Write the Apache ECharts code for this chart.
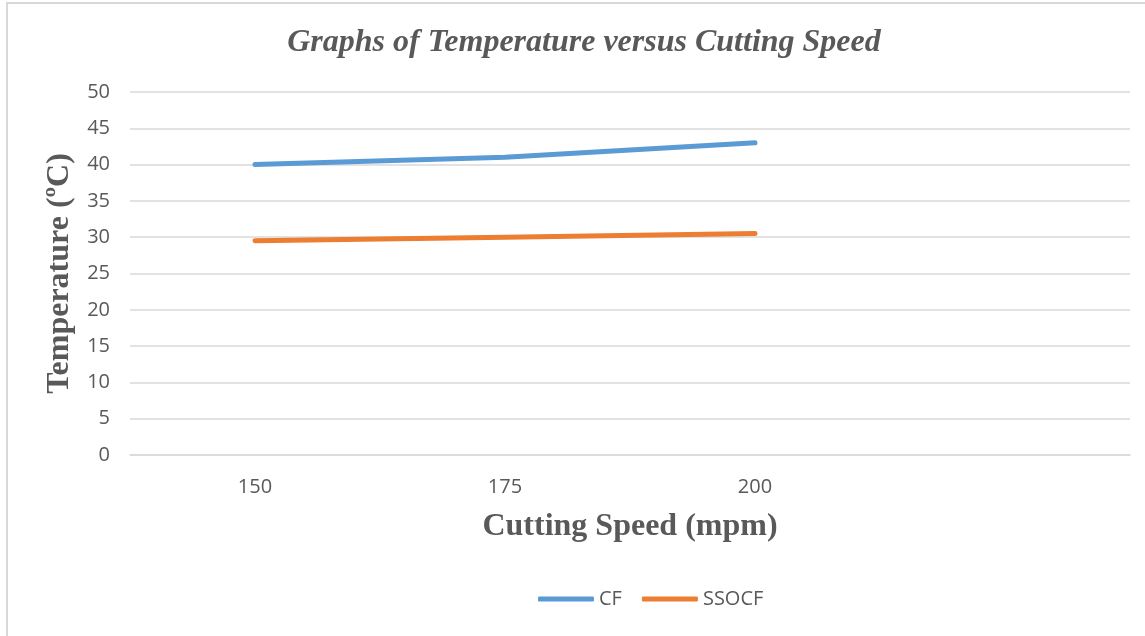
<!DOCTYPE html>
<html>
<head>
<meta charset="utf-8">
<script src="https://cdn.jsdelivr.net/npm/echarts@6/dist/echarts.min.js"></script>
<style>
html,body{margin:0;padding:0;background:#fff;}
#frame{position:absolute;left:6px;top:2px;width:1200px;height:700px;border:2px solid #d9d9d9;box-sizing:border-box;}
#chart{position:absolute;left:0;top:0;width:1145px;height:636px;}
</style>
</head>
<body>
<div id="frame"></div>
<div id="chart"></div>
<script>
const categories = ['150', '175', '200', ''];
const cfValues = [40, 41, 43, null];
const ssocfValues = [29.5, 30, 30.5, null];
const yTicks = { min: 0, max: 50, interval: 5 };

const chart = echarts.init(document.getElementById('chart'));
const serif = '"Liberation Serif", "Times New Roman", serif';
const sans = '"Open Sans", "Noto Sans", sans-serif';
chart.setOption({
  animation: false,
  title: {
    text: 'Graphs of Temperature versus Cutting Speed',
    left: 579, top: 22, textAlign: 'center',
    textStyle: { fontFamily: serif, fontStyle: 'italic', fontWeight: 'bold', fontSize: 32, color: '#595959' }
  },
  legend: {
    bottom: 22, left: 533,
    itemWidth: 56, itemHeight: 5, itemGap: 20,
    textStyle: { fontFamily: sans, fontSize: 20, color: '#595959' },
    data: [{ name: 'CF', icon: 'roundRect' }, { name: 'SSOCF', icon: 'roundRect' }]
  },
  grid: { left: 130, right: 15, top: 92, bottom: 181 },
  xAxis: {
    type: 'category', data: categories, boundaryGap: true,
    name: 'Cutting Speed (mpm)', nameLocation: 'middle', nameGap: 56,
    nameTextStyle: { fontFamily: serif, fontWeight: 'bold', fontSize: 32, color: '#595959' },
    axisLine: { lineStyle: { color: '#d9d9d9', width: 1.5 } },
    axisTick: { show: false },
    axisLabel: { fontFamily: sans, fontSize: 20, color: '#595959', margin: 22 }
  },
  yAxis: {
    type: 'value', min: yTicks.min, max: yTicks.max, interval: yTicks.interval,
    name: 'Temperature (ºC)', nameLocation: 'middle', nameGap: 54,
    nameTextStyle: { fontFamily: serif, fontWeight: 'bold', fontSize: 32, color: '#595959' },
    axisLine: { show: false }, axisTick: { show: false },
    axisLabel: { fontFamily: sans, fontSize: 20, color: '#595959', margin: 20 },
    splitLine: { lineStyle: { color: '#d9d9d9', width: 1.5 } }
  },
  series: [
    { name: 'CF', type: 'line', data: cfValues, symbol: 'none', showSymbol: false,
      color: '#5B9BD5', lineStyle: { width: 5, color: '#5B9BD5', cap: 'round' } },
    { name: 'SSOCF', type: 'line', data: ssocfValues, symbol: 'none', showSymbol: false,
      color: '#ED7D31', lineStyle: { width: 5, color: '#ED7D31', cap: 'round' } }
  ]
});
</script>
</body>
</html>
